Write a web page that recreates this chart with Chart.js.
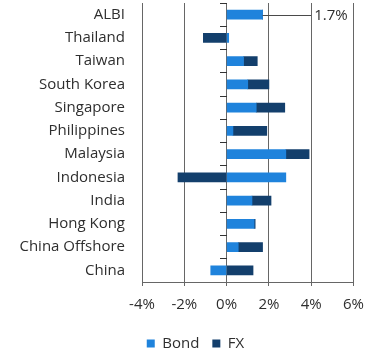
<!DOCTYPE html>
<html>
<head>
<meta charset="utf-8">
<script src="https://cdn.jsdelivr.net/npm/chart.js@4.4.1/dist/chart.umd.min.js"></script>
<style>
  html, body { margin: 0; padding: 0; background: #fff; }
  #wrap { width: 374px; height: 354px; position: relative; }
</style>
</head>
<body>
<div id="wrap"><canvas id="c"></canvas></div>
<script>
// categories, top to bottom
const markets = ['ALBI', 'Thailand', 'Taiwan', 'South Korea', 'Singapore', 'Philippines',
  'Malaysia', 'Indonesia', 'India', 'Hong Kong', 'China Offshore', 'China'];
// returns, %
const bond = [1.7, 0.1, 0.8, 1.0, 1.4, 0.3, 2.8, 2.8, 1.2, 1.3, 0.55, -0.75];
const fx   = [0, -1.1, 0.65, 1.0, 1.35, 1.6, 1.1, -2.3, 0.9, 0.05, 1.15, 1.25];
const xTicks = [-4, -2, 0, 2, 4, 6];

const COLORS = { bond: '#1f83dc', fx: '#133f6c', grid: '#666666', text: '#2e2e2e' };
const FONT = 'Open Sans, sans-serif';

// leader line + value label for the ALBI bar
const albiLabel = {
  id: 'albiLabel',
  afterLayout(chart) {
    // nudge the legend right, like the original
    chart.legend.left += 18; chart.legend.right += 18;
  },
  afterDatasetsDraw(chart) {
    const el = chart.getDatasetMeta(0).data[0];
    const xs = chart.scales.x;
    const xEnd = xs.getPixelForValue(4);
    const c = chart.ctx;
    c.save();
    c.strokeStyle = '#4a4a4a'; c.lineWidth = 1;
    c.beginPath(); c.moveTo(el.x, Math.round(el.y) + 0.5); c.lineTo(xEnd, Math.round(el.y) + 0.5); c.stroke();
    c.fillStyle = COLORS.text; c.font = '15px ' + FONT;
    c.textAlign = 'left'; c.textBaseline = 'middle';
    c.fillText(bond[0] + '%', xEnd + 3, el.y + 1);
    c.restore();
  }
};

new Chart(document.getElementById('c'), {
  type: 'bar',
  data: {
    labels: markets,
    datasets: [
      { label: 'Bond', data: bond, backgroundColor: COLORS.bond, barThickness: 9 },
      { label: 'FX', data: fx, backgroundColor: COLORS.fx, barThickness: 9 }
    ]
  },
  options: {
    indexAxis: 'y', responsive: true, maintainAspectRatio: false, animation: false,
    layout: { padding: { top: 3, right: 19, bottom: 0, left: 0 } },
    plugins: {
      legend: {
        position: 'bottom', maxHeight: 31,
        labels: { boxWidth: 8, boxHeight: 8, color: COLORS.text, font: { family: FONT, size: 15 }, padding: 13 }
      },
      tooltip: { enabled: false }
    },
    scales: {
      x: {
        stacked: true, min: -4, max: 6,
        afterBuildTicks(s) { s.ticks = xTicks.map(v => ({ value: v })); },
        grid: { color: COLORS.grid, tickLength: 4, tickColor: COLORS.grid },
        border: { color: COLORS.grid },
        ticks: { color: COLORS.text, font: { family: FONT, size: 15 }, padding: 10, callback: v => v + '%' },
        afterFit(s) { s.height = 41; }
      },
      y: {
        stacked: true,
        grid: { display: false, drawTicks: false },
        border: { display: false },
        ticks: { color: COLORS.text, font: { family: FONT, size: 15 }, padding: 17 },
        afterFit(s) { s.width = 142; s.paddingTop = 0; s.paddingBottom = 0; }
      },
      y2: {
        type: 'category', axis: 'y', position: { x: 0 }, offset: true,
        grid: { offset: true, drawOnChartArea: false, tickLength: 7, color: '#333' },
        border: { display: false },
        ticks: { display: false }
      }
    }
  },
  plugins: [albiLabel]
});
</script>
</body>
</html>
